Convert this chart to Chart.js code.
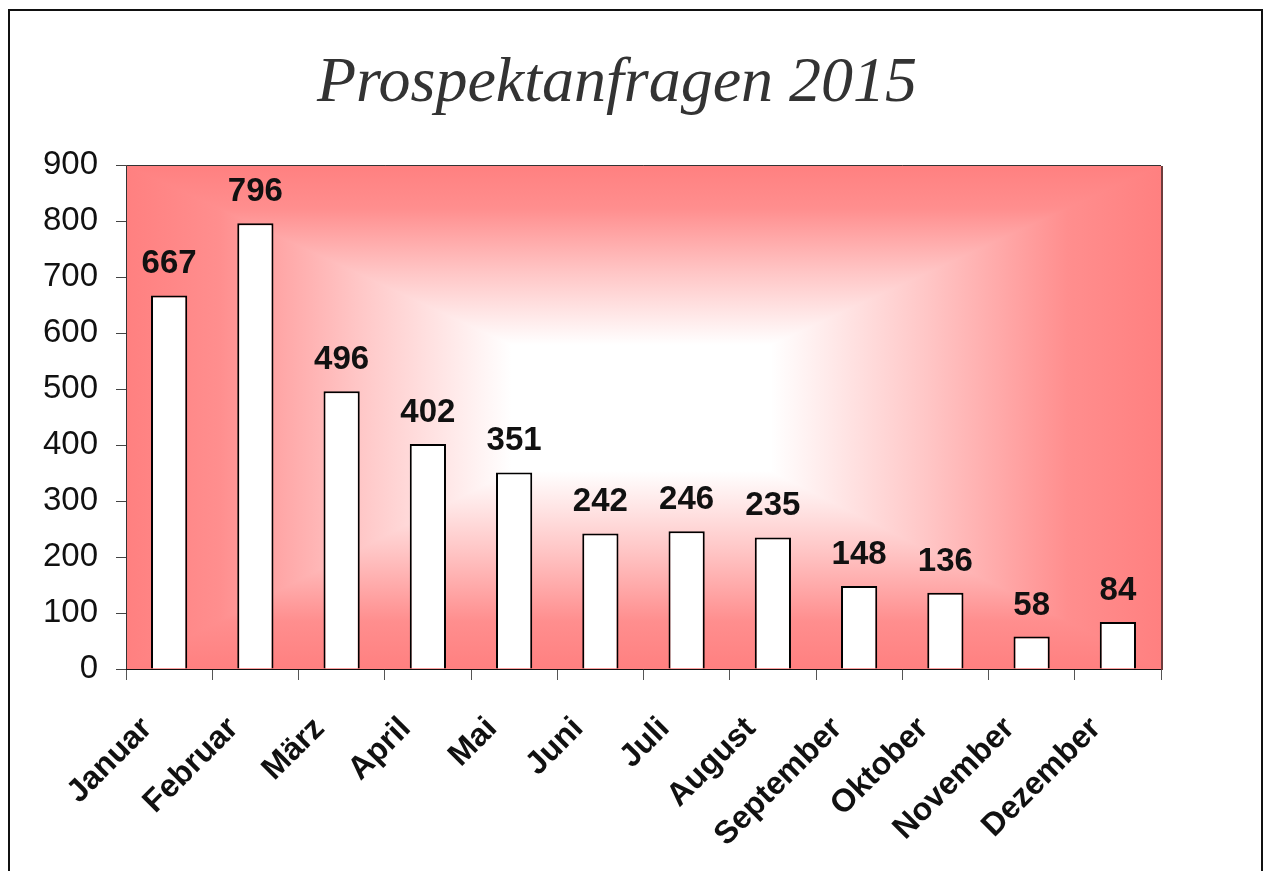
<!DOCTYPE html>
<html>
<head>
<meta charset="utf-8">
<script src="https://cdn.jsdelivr.net/npm/chart.js"></script>
<style>
  html, body { margin: 0; padding: 0; background: #fff; }
  #wrap { width: 1264px; height: 871px; }
</style>
</head>
<body>
<div id="wrap"><canvas id="barChart" width="1264" height="871"></canvas></div>
<script>
const months = ['Januar', 'Februar', 'März', 'April', 'Mai', 'Juni', 'Juli', 'August', 'September', 'Oktober', 'November', 'Dezember'];
const inquiries = [667, 796, 496, 402, 351, 242, 246, 235, 148, 136, 58, 84];
const yTicks = [0, 100, 200, 300, 400, 500, 600, 700, 800, 900];
const chartTitle = 'Prospektanfragen 2015';

// pink -> white stops, used for the "from center" fill of the plot area
const fillStops = [
  [0, 'rgb(255,128,128)'],
  [0.18, 'rgb(255,142,142)'],
  [0.45, 'rgb(255,198,198)'],
  [0.75, '#ffffff'],
  [1, '#ffffff']
];

function addStops(g) {
  fillStops.forEach(([t, c]) => g.addColorStop(t, c));
  return g;
}

const backdrop = {
  id: 'backdrop',
  beforeDraw(chart) {
    const { ctx, chartArea: a } = chart;
    ctx.save();
    ctx.fillStyle = '#fff';
    ctx.fillRect(0, 0, chart.width, chart.height);
    ctx.strokeStyle = '#111';
    ctx.lineWidth = 2;
    ctx.strokeRect(9, 10, 1253, 900);

    // rectangular gradient built from four triangles meeting in the middle
    const L = a.left, R = a.right, T = a.top, B = a.bottom;
    const cx = (L + R) / 2 - 3, cy = (T + B) / 2 - 12;

    // top + bottom part as one vertical gradient over the whole area
    const v = ctx.createLinearGradient(0, T, 0, B);
    const k = (cy - T) / (B - T);
    fillStops.forEach(([t, c]) => v.addColorStop(t * k, c));
    fillStops.slice().reverse().forEach(([t, c]) => v.addColorStop(k + (1 - t) * (1 - k), c));
    ctx.fillStyle = v;
    ctx.fillRect(L, T, R - L, B - T);

    // left triangle
    ctx.beginPath();
    ctx.moveTo(L, T); ctx.lineTo(cx, cy); ctx.lineTo(L, B); ctx.closePath();
    ctx.fillStyle = addStops(ctx.createLinearGradient(L, 0, cx, 0));
    ctx.fill();
    // right triangle
    ctx.beginPath();
    ctx.moveTo(R, T); ctx.lineTo(cx, cy); ctx.lineTo(R, B); ctx.closePath();
    ctx.fillStyle = addStops(ctx.createLinearGradient(R, 0, cx, 0));
    ctx.fill();

    ctx.restore();
  },
  beforeDatasetsDraw(chart) {
    const { ctx, chartArea: a } = chart;
    ctx.save();
    ctx.strokeStyle = '#333';
    ctx.lineWidth = 1;
    ctx.beginPath();
    ctx.moveTo(a.left + 0.5, a.bottom);
    ctx.lineTo(a.left + 0.5, a.top + 0.5);
    ctx.lineTo(a.right, a.top + 0.5);
    ctx.stroke();
    ctx.strokeStyle = '#111';
    ctx.beginPath();
    ctx.moveTo(a.left, a.bottom + 0.5);
    ctx.lineTo(a.right, a.bottom + 0.5);
    ctx.stroke();
    ctx.strokeStyle = '#6e3c3c';
    ctx.lineWidth = 2;
    ctx.beginPath();
    ctx.moveTo(a.right + 1, a.top + 1);
    ctx.lineTo(a.right + 1, a.bottom + 1);
    ctx.stroke();
    ctx.restore();
  },
  afterDraw(chart) {
    const { ctx } = chart;
    ctx.save();
    ctx.font = 'italic 64px "Liberation Serif", serif';
    ctx.fillStyle = '#333';
    ctx.textAlign = 'center';
    ctx.textBaseline = 'alphabetic';
    ctx.fillText(chartTitle, 617, 101);
    ctx.restore();
  }
};

// numbers above the bars
const valueLabels = {
  id: 'valueLabels',
  afterDatasetsDraw(chart) {
    const { ctx } = chart;
    const meta = chart.getDatasetMeta(0);
    ctx.save();
    ctx.font = 'bold 33px "Liberation Sans", Arial, sans-serif';
    ctx.fillStyle = '#111';
    ctx.textAlign = 'center';
    ctx.textBaseline = 'alphabetic';
    meta.data.forEach((bar, i) => {
      ctx.fillText(String(inquiries[i]), bar.x, bar.y - 22);
    });
    ctx.restore();
  }
};

const config = {
  type: 'bar',
  data: {
    labels: months,
    datasets: [{
      data: inquiries,
      backgroundColor: '#ffffff',
      borderColor: '#000',
      borderWidth: 2,
      barPercentage: 0.42,
      categoryPercentage: 1
    }]
  },
  options: {
    responsive: false,
    animation: false,
    layout: { padding: { left: 0, right: 103, top: 165, bottom: 0 } },
    plugins: {
      legend: { display: false },
      tooltip: { enabled: false },
      title: { display: false }
    },
    scales: {
      x: {
        offset: true,
        grid: { offset: true, drawOnChartArea: false, tickLength: 11, color: '#555', lineWidth: 1 },
        border: { display: false },
        ticks: {
          color: '#111',
          maxRotation: 45,
          minRotation: 45,
          autoSkip: false,
          padding: 30,
          labelOffset: -22,
          font: { family: '"Liberation Sans", Arial, sans-serif', size: 32, weight: 'bold' }
        },
        afterFit(scale) { scale.height = 202; }
      },
      y: {
        min: 0,
        max: 900,
        afterBuildTicks(scale) { scale.ticks = yTicks.map(v => ({ value: v })); },
        grid: { drawOnChartArea: false, tickLength: 10, color: '#444', lineWidth: 1 },
        border: { display: false },
        ticks: {
          color: '#111',
          padding: 18,
          font: { family: '"Liberation Sans", Arial, sans-serif', size: 33 }
        },
        afterFit(scale) { scale.width = 126; }
      }
    }
  },
  plugins: [backdrop, valueLabels]
};

window.addEventListener('DOMContentLoaded', () => {
  const ctx = document.getElementById('barChart').getContext('2d');
  new Chart(ctx, config);
});
</script>
</body>
</html>
